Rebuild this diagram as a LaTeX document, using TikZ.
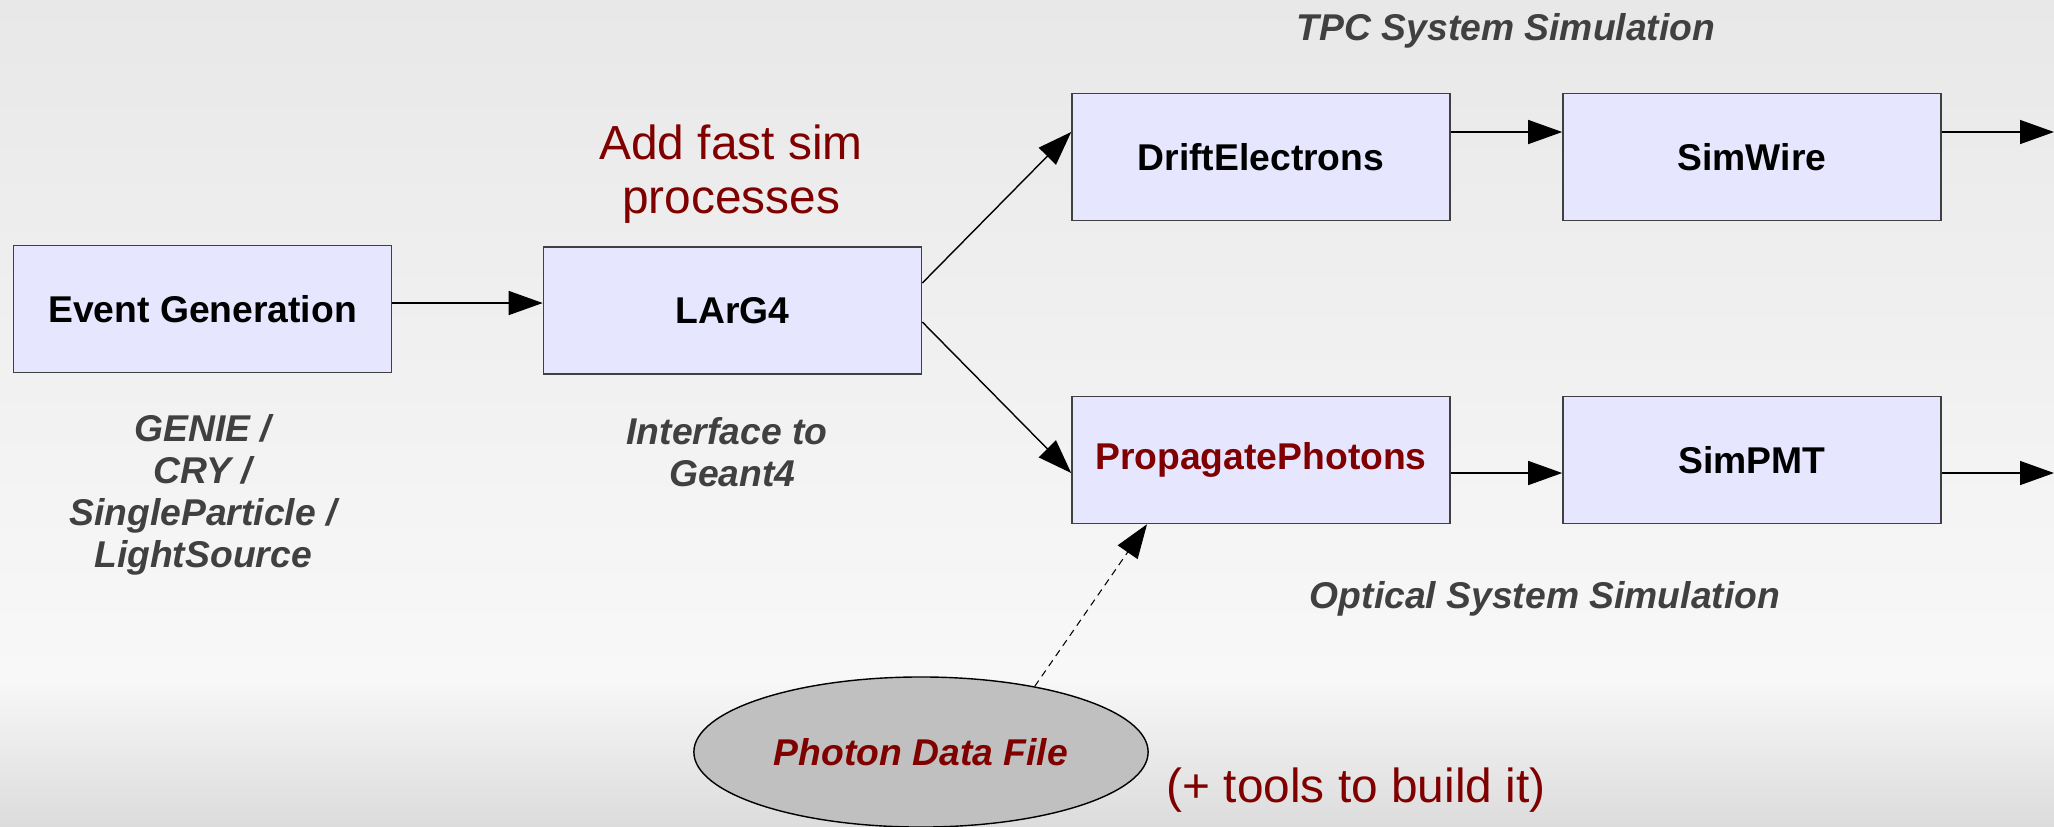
\documentclass[tikz,border=0pt]{standalone}
\usepackage{fontspec}
\setmainfont{Liberation Sans}
\usetikzlibrary{arrows.meta,shapes.geometric}
\definecolor{boxfill}{RGB}{230,230,255}
\definecolor{darkred}{RGB}{128,0,0}
\definecolor{labelgray}{RGB}{64,64,64}
\definecolor{filegray}{RGB}{192,192,192}
\definecolor{bgtop}{RGB}{232,232,232}
\definecolor{bgmid}{RGB}{248,248,248}
\definecolor{bgbottom}{RGB}{220,220,220}
\tikzset{
  simbox/.style={draw=black!75, fill=boxfill, line width=0.4pt, minimum width=3.78cm,
    minimum height=1.27cm, inner sep=0pt, font=\bfseries\fontsize{10.6}{12.7}\selectfont},
  note/.style={text=labelgray, align=center, font=\bfseries\itshape\fontsize{10.6}{12}\selectfont},
  remark/.style={text=darkred, align=center, font=\fontsize{13.6}{15.5}\selectfont},
  flow/.style={-{Triangle[length=3.4mm,width=2.4mm]}, line width=0.4pt},
}

\begin{document}
\begin{tikzpicture}[x=0.01cm, y=-0.01cm]
% background
\shade[top color=bgtop, bottom color=bgmid] (0,0) rectangle (2054,676);
\shade[top color=bgmid, bottom color=bgbottom] (0,676) rectangle (2054,826);
\useasboundingbox (0,0) rectangle (2054,826);

% simulation stages
\node[simbox] (evgen) at (202.5,309) {Event Generation};
\node[simbox] (larg4) at (732.5,310.5) {LArG4};
\node[simbox] (drift) at (1261,157) {DriftElectrons};
\node[simbox] (simwire) at (1752,157) {SimWire};
\node[simbox, text=darkred] (photons) at (1261,460) {PropagatePhotons};
\node[simbox] (simpmt) at (1752,460) {SimPMT};
\node[ellipse, draw, fill=filegray, minimum width=4.54cm, minimum height=1.5cm, inner sep=0pt,
  text=darkred, font=\bfseries\itshape\fontsize{10.6}{12.7}\selectfont] (datafile) at (921,752) {Photon Data File};

% labels
\node[note] (genlabel) at (203,495) {GENIE /\\CRY /\\SingleParticle /\\LightSource};
\node[note] (g4label) at (727,452) {Interface to\\\hspace*{0.278em}Geant4};
\node[remark] (fastsim) at (731,174) {Add fast sim\\processes};
\node[note] (tpclabel) at (1506,31) {TPC System Simulation};
\node[note] (optlabel) at (1545,599) {Optical System Simulation};
\node[remark] (tools) at (1356,790) {(+ tools to build it)};

% connectors
\coordinate (wireout) at (2054,132);
\coordinate (pmtout) at (2054,473);
\draw[flow] (evgen.east |- 0,303) -- (larg4.west |- 0,303);
\draw[flow] (larg4.east |- 0,283) -- (drift.west |- wireout);
\draw[flow] (larg4.east |- 0,322) -- (photons.west |- pmtout);
\draw[flow] (drift.east |- wireout) -- (simwire.west |- wireout);
\draw[flow] (simwire.east |- wireout) -- (wireout);
\draw[flow] (photons.east |- pmtout) -- (simpmt.west |- pmtout);
\draw[flow] (simpmt.east |- pmtout) -- (pmtout);
\draw[flow, line width=0.3pt, dash pattern=on 2pt off 1.5pt] (datafile.30) -- (photons.south -| 1147,0);
\end{tikzpicture}
\end{document}
